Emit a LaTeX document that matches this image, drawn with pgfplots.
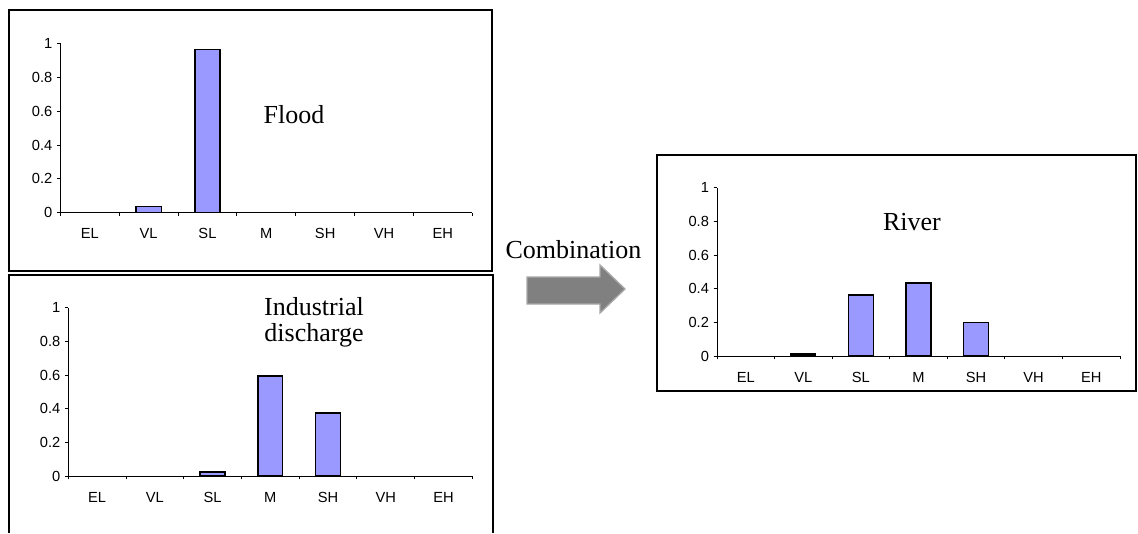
\documentclass[border=0pt]{standalone}
\usepackage{pgfplots}
\pgfplotsset{compat=1.18}
\usepackage{fontspec}
\setmainfont{Liberation Serif}
\newfontfamily\arial{Liberation Sans}
\definecolor{barblue}{HTML}{9999FF}
\definecolor{arrowgray}{HTML}{808080}
\definecolor{arrowedge}{HTML}{A8A8A8}

\pgfplotsset{
  panel/.style={
    scale only axis, anchor=south west,
    xmin=-0.5, xmax=6.5, ymin=0, ymax=1,
    axis x line*=bottom, axis y line*=left,
    axis line style={black, line width=0.75pt},
    ytick={0,0.2,0.4,0.6,0.8,1},
    yticklabels={0,0.2,0.4,0.6,0.8,1},
    xtick={0,1,2,3,4,5,6},
    xticklabels={EL,VL,SL,M,SH,VH,EH},
    minor xtick={-0.5,0.5,1.5,2.5,3.5,4.5,5.5,6.5},
    every major x tick/.style={draw=none},
    tick align=outside,
    major tick length=2.5pt, minor tick length=2.5pt,
    tick style={black, line width=0.6pt},
    ticklabel style={font=\arial\fontsize{11}{13}\selectfont},
    xticklabel style={yshift=-6pt},
    ybar, bar width=0.43,
    clip=false,
  },
  panelbar/.style={fill=barblue, draw=black, line width=1.1pt, bar shift=0pt},
}
\newcommand{\lab}{\fontsize{19.5}{20}\selectfont}

\begin{document}
\begin{tikzpicture}
\useasboundingbox (0,0) rectangle (853.5pt,-399.75pt);

% Panel 1: Flood
\begin{axis}[panel, at={(45.23pt,-159.53pt)}, width=309pt, height=127.05pt]
\addplot[panelbar] coordinates {(1,0.037) (2,0.964)};
\end{axis}

% Panel 2: Industrial discharge
\begin{axis}[panel, at={(51.23pt,-357pt)}, width=303pt, height=126.2pt]
\addplot[panelbar] coordinates {(2,0.024) (3,0.595) (4,0.374)};
\end{axis}

% Panel 3: River
\begin{axis}[panel, at={(537.75pt,-267pt)}, width=302.25pt, height=126.2pt]
\addplot[panelbar] coordinates {(1,0.012) (2,0.362) (3,0.433) (4,0.199)};
\end{axis}

\begin{scope}[x=0.75pt,y=-0.75pt]
  % boxes
  \draw[line width=1.5pt] (9,10) rectangle (492,271);
  \draw[line width=1.5pt] (9.3,533) -- (9.3,275) -- (492.7,275) -- (492.7,533);
  \draw[line width=1.5pt] (657.3,154.7) rectangle (1136,391);
  % labels
  \node[anchor=base, inner sep=0pt] at (294,123) {\lab Flood};
  \node[anchor=base, inner sep=0pt] at (314,315) {\lab Industrial};
  \node[anchor=base, inner sep=0pt] at (314,341) {\lab discharge};
  \node[anchor=base, inner sep=0pt] at (912,230) {\lab River};
  \node[anchor=base, inner sep=0pt] at (573.5,258) {\lab Combination};
  % arrow
  \fill[arrowgray, draw=arrowedge, line width=1pt]
    (527,277) -- (600,277) -- (600,265) -- (625,289) -- (600,313) -- (600,304) -- (527,304) -- cycle;
\end{scope}
\end{tikzpicture}
\end{document}
